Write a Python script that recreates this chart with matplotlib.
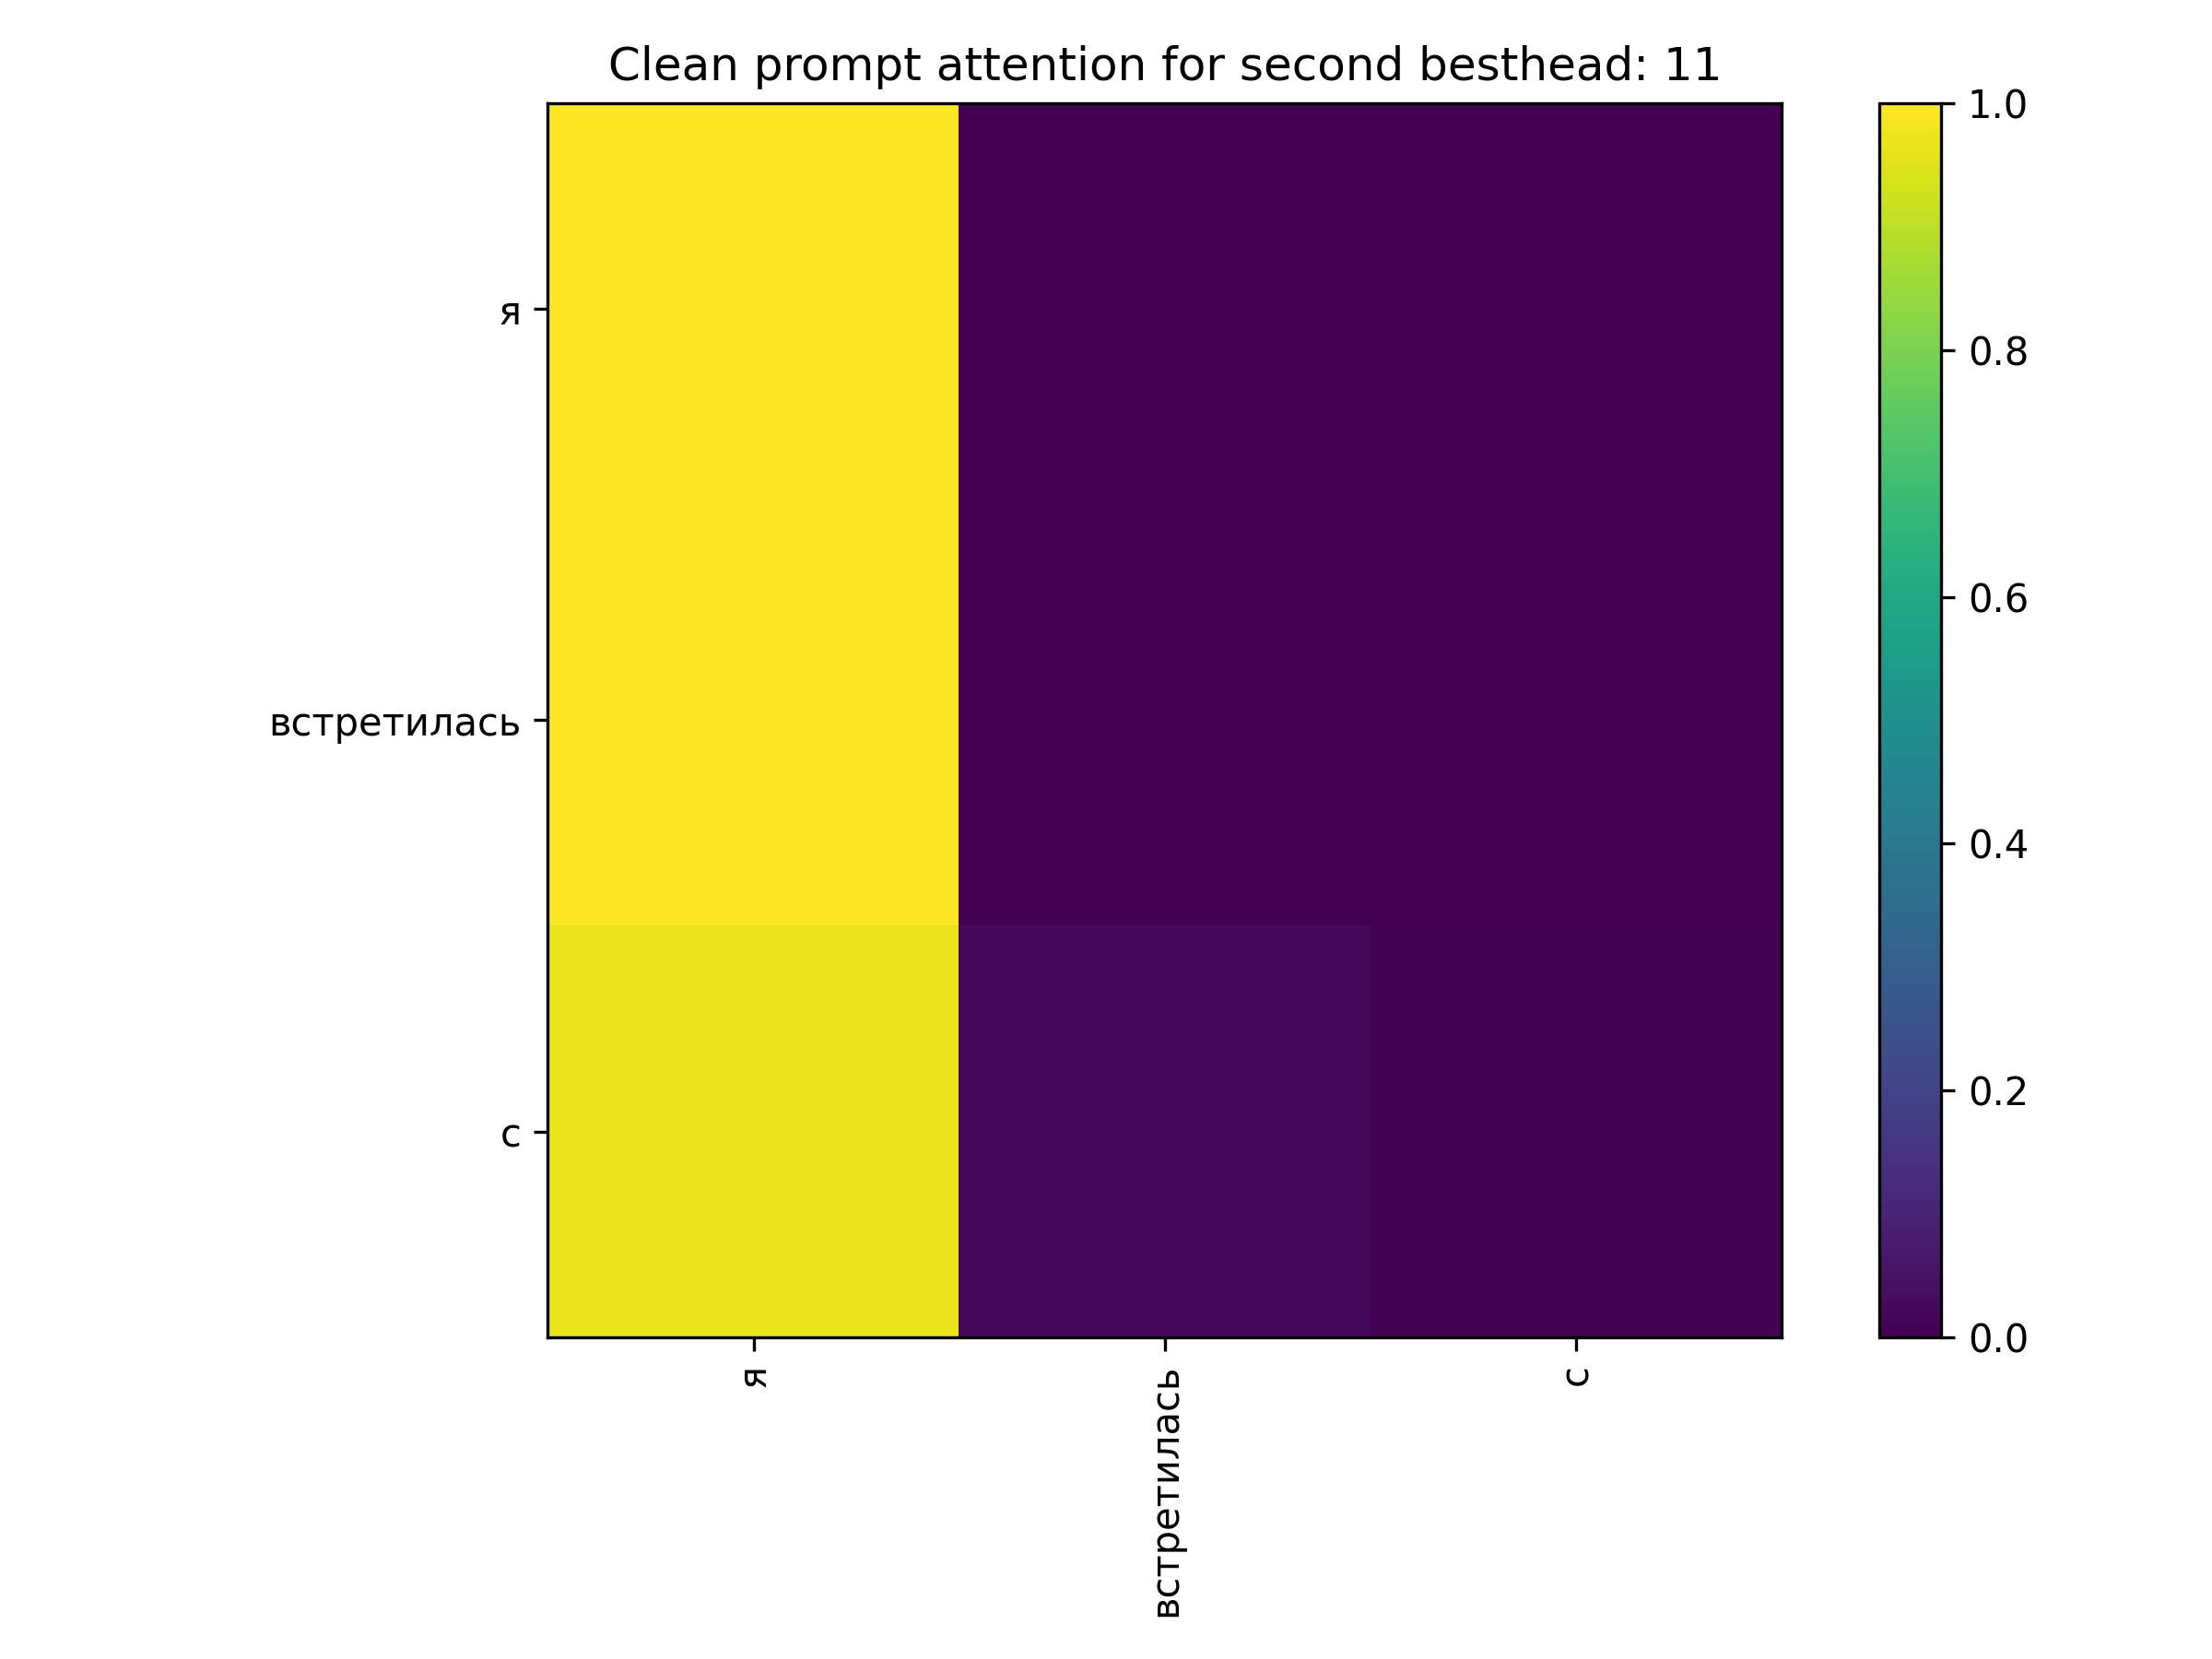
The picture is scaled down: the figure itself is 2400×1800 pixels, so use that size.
import matplotlib
matplotlib.use("Agg")
import matplotlib.pyplot as plt
import numpy as np

# tokens of the prompt
tokens = ["я", "встретилась", "с"]

# attention weights (rows = query, cols = key)
row_ya = [1.0, 0.0, 0.0]
row_vstr = [0.997, 0.002, 0.001]
row_s = [0.972, 0.022, 0.006]


def main():
    attn = np.array([row_ya, row_vstr, row_s])

    fig, ax = plt.subplots(figsize=(8, 6))
    im = ax.imshow(attn, cmap="viridis", vmin=0.0, vmax=1.0)
    fig.colorbar(im, ax=ax)

    ax.set_xticks(range(len(tokens)))
    ax.set_xticklabels(tokens, rotation=90)
    ax.set_yticks(range(len(tokens)))
    ax.set_yticklabels(tokens)
    ax.set_title("Clean prompt attention for second besthead: 11")

    fig.tight_layout()
    fig.savefig("out.png", dpi=300)


main()
